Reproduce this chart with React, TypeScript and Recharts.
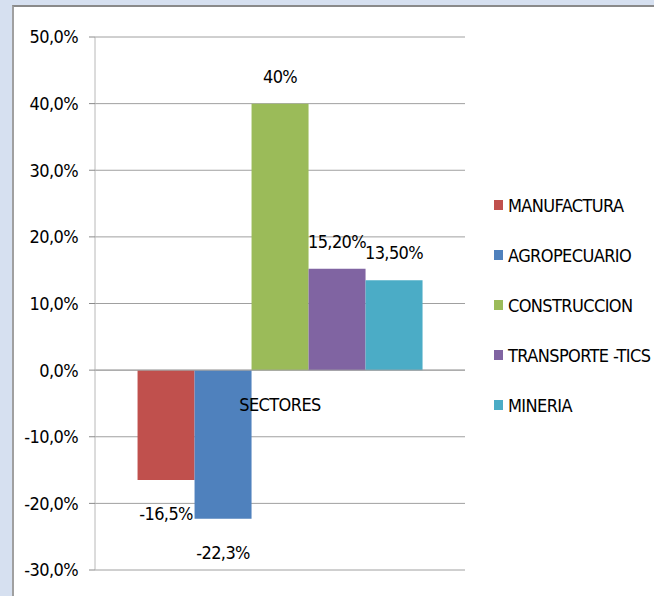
import React from 'react';
import { BarChart, Bar, XAxis, YAxis, CartesianGrid, Legend, LabelList, ReferenceLine } from 'recharts';

const categories = ['SECTORES'];
const seriesNames = ['MANUFACTURA', 'AGROPECUARIO', 'CONSTRUCCION', 'TRANSPORTE -TICS', 'MINERIA'];
const seriesValues = [-16.5, -22.3, 40, 15.2, 13.5];
const seriesLabels = ['-16,5%', '-22,3%', '40%', '15,20%', '13,50%'];
const seriesColors = ['#C0504D', '#4F81BD', '#9BBB59', '#8064A2', '#4BACC6'];
const yTicks = [-30, -20, -10, 0, 10, 20, 30, 40, 50];

const FONT = "'Liberation Sans Narrow', 'DejaVu Sans Condensed', 'Roboto Condensed', sans-serif";
const FS = 18;
const LS = -0.6;

const data = categories.map((name) => {
  const row: Record<string, any> = { name };
  seriesValues.forEach((v, i) => {
    row['s' + i] = v;
  });
  return row;
});

const fmtTick = (v: number) => v.toFixed(1).replace('.', ',') + '%';

const makeLabel = (i: number) => (props: any) => {
  const { x, y, width, height } = props;
  const top = Math.min(y, y + height);
  const bottom = Math.max(y, y + height);
  const neg = seriesValues[i] < 0;
  const cx = x + width / 2;
  const ty = neg ? bottom + 34 : top - 27;
  return (
    <text x={cx} y={ty} dy="0.35em" textAnchor="middle" fill="#000" fontFamily={FONT} fontSize={FS} letterSpacing={LS}>
      {seriesLabels[i]}
    </text>
  );
};

const LegendContent = () => (
  <div style={{ fontFamily: FONT, fontSize: FS, letterSpacing: LS, color: '#000' }}>
    {seriesNames.map((n, i) => (
      <div key={n} style={{ height: 50, display: 'flex', alignItems: 'center' }}>
        <span style={{ display: 'inline-block', width: 9, height: 10, background: seriesColors[i], marginRight: 5 }} />
        <span>{n}</span>
      </div>
    ))}
  </div>
);

export default function App() {
  return (
    <div style={{ position: 'absolute', left: 0, top: 0, width: 654, height: 596, background: '#d6e0f0', overflow: 'hidden' }}>
      <div
        style={{
          position: 'absolute',
          left: 12,
          top: 5,
          right: 0,
          bottom: 0,
          background: '#fff',
          borderTop: '2px solid #8a8a8a',
          borderLeft: '2px solid #a0a0a0',
        }}
      />
      <div style={{ position: 'absolute', left: 0, top: 0 }}>
        <BarChart
          width={654}
          height={596}
          data={data}
          margin={{ top: 37, right: 29, bottom: 26, left: 0 }}
          barCategoryGap="11.5%"
          barGap={0}
        >
          <CartesianGrid vertical={false} stroke="#a0a0a0" />
          <XAxis dataKey="name" hide />
          <YAxis
            width={95}
            domain={[-30, 50]}
            ticks={yTicks}
            tickFormatter={fmtTick}
            axisLine={{ stroke: '#b8b8b8' }}
            tickLine={{ stroke: '#8a8a8a' }}
            tickSize={6}
            tickMargin={11}
            tick={{ fill: '#000', fontFamily: FONT, fontSize: FS, letterSpacing: LS }}
            interval={0}
          />
          <ReferenceLine
            y={0}
            stroke="#a0a0a0"
            label={{ value: categories[0], position: 'bottom', offset: 28, fill: '#000', fontFamily: FONT, fontSize: FS, letterSpacing: LS }}
          />
          {seriesNames.map((n, i) => (
            <Bar key={n} dataKey={'s' + i} name={n} fill={seriesColors[i]} isAnimationActive={false}>
              <LabelList dataKey={'s' + i} content={makeLabel(i)} />
            </Bar>
          ))}
          <Legend
            layout="vertical"
            align="right"
            verticalAlign="top"
            content={<LegendContent />}
            wrapperStyle={{ left: 494, top: 180, width: 160 }}
          />
        </BarChart>
      </div>
    </div>
  );
}
